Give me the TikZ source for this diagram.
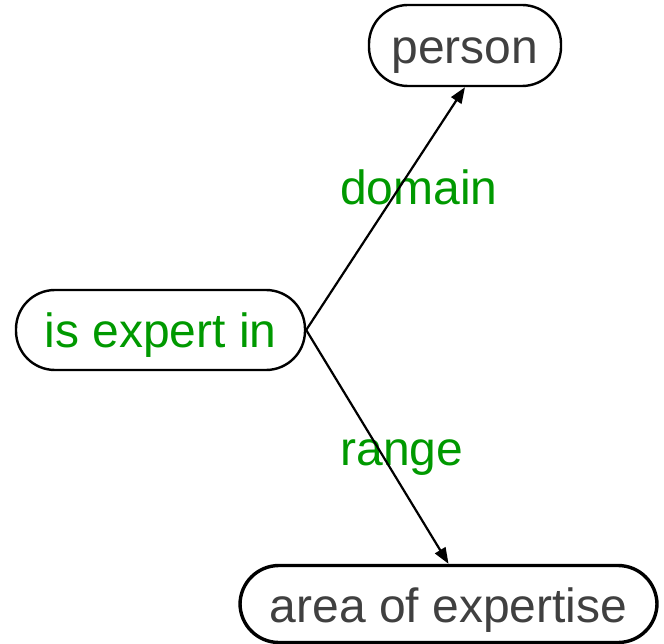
\documentclass[tikz,border=0pt]{standalone}
\usepackage{fontspec}
\setmainfont{Liberation Sans}
\usetikzlibrary{arrows.meta}
\definecolor{labelgreen}{HTML}{009900}
\definecolor{textgray}{HTML}{404040}
\begin{document}
\begin{tikzpicture}[x=1pt,y=-1pt,
  pill/.style={draw=black, line width=2.4pt, rounded corners=39pt,
    inner sep=0pt, text height=36pt, text depth=0pt,
    font=\fontsize{48}{56}\selectfont},
  edgelabel/.style={text=labelgreen, inner sep=0pt, anchor=base,
    font=\fontsize{48}{56}\selectfont},
  link/.style={line width=2.2pt, -{Triangle[length=16pt,width=12pt]}}]
  \useasboundingbox (0,0) rectangle (664,644);
  % concept nodes
  \node[pill, text=textgray, minimum width=192pt, minimum height=81pt] (person) at (465,45.5) {person};
  \node[pill, text=labelgreen, minimum width=289pt, minimum height=80pt] (expert) at (160.5,330) {is expert in};
  \node[pill, text=textgray, line width=3.4pt, minimum width=417pt, minimum height=77pt] (area) at (448.5,604) {area of expertise};
  % edge labels (drawn first so the edges pass over them)
  \node[edgelabel] (domain) at (419,205) {domain};
  \node[edgelabel] (range) at (402,465) {range};
  % property edges
  \draw[link] (expert.east) -- (person.south);
  \draw[link] (expert.east) -- (area.north);
\end{tikzpicture}
\end{document}
